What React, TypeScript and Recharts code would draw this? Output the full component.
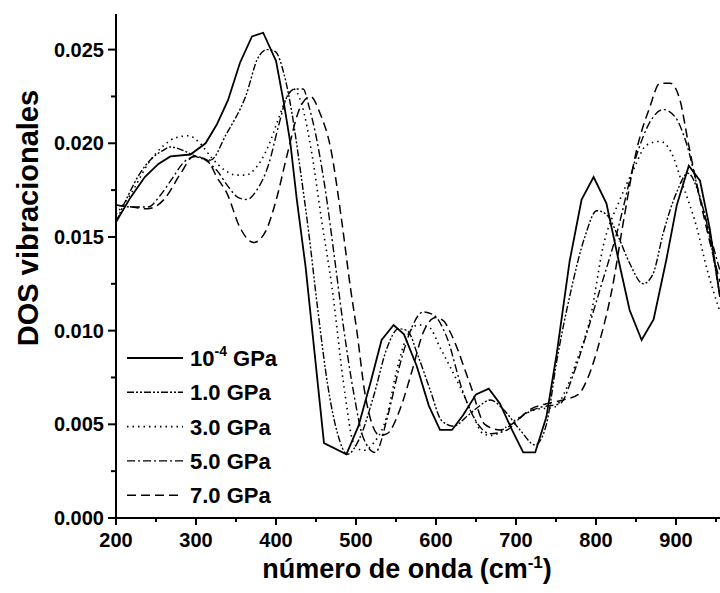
import React from 'react'
import { LineChart, Line, XAxis, YAxis, Legend } from 'recharts'

// DOS vibracionales vs número de onda, one array of [cm-1, DOS] per pressure
const gpa0001 = [
  [200, 0.0158], [218, 0.0171], [236, 0.0182], [253, 0.0189], [268, 0.0193], [293, 0.0194],
  [312, 0.02], [326, 0.021], [340, 0.0223], [355, 0.0243], [370, 0.0257], [384, 0.0259],
  [400, 0.0244], [410, 0.0221], [418, 0.02], [426, 0.017], [437, 0.0134], [460, 0.004],
  [488, 0.0034], [503, 0.0049], [518, 0.0072], [532, 0.0095], [547, 0.0103], [560, 0.0098],
  [576, 0.0081], [591, 0.006], [605, 0.0047], [620, 0.0047], [634, 0.0055], [650, 0.0066],
  [666, 0.0069], [680, 0.0061], [695, 0.0047], [709, 0.0035], [724, 0.0035], [738, 0.0054],
  [751, 0.0088], [767, 0.0137], [782, 0.017], [797, 0.0182], [813, 0.0168], [828, 0.0138],
  [842, 0.0111], [857, 0.0095], [872, 0.0106], [888, 0.0138], [901, 0.0167], [916, 0.0188],
  [930, 0.018], [942, 0.0155], [955, 0.0118],
]

const gpa1 = [
  [200, 0.0158], [215, 0.0172], [230, 0.0184], [245, 0.0192], [258, 0.0196], [268, 0.0198],
  [285, 0.0196], [300, 0.0193], [318, 0.0191], [338, 0.0205], [362, 0.0225], [378, 0.0246],
  [389, 0.025], [399, 0.0249], [410, 0.0237], [420, 0.0216], [430, 0.0187], [441, 0.0152],
  [452, 0.0112], [465, 0.007], [477, 0.0045], [489, 0.0034], [505, 0.0043], [522, 0.0065],
  [539, 0.0091], [553, 0.0101], [564, 0.01], [578, 0.0086], [593, 0.0068], [607, 0.0052],
  [622, 0.0049], [638, 0.0054], [652, 0.0059], [668, 0.0063], [684, 0.0058], [705, 0.0047],
  [724, 0.0039], [738, 0.005], [751, 0.0084], [768, 0.012], [786, 0.015], [801, 0.0164],
  [813, 0.0162], [828, 0.015], [842, 0.0136], [859, 0.0125], [871, 0.013], [884, 0.0152],
  [900, 0.0173], [915, 0.0184], [930, 0.0171], [942, 0.015], [955, 0.0118],
]

const gpa3 = [
  [200, 0.0162], [220, 0.0174], [240, 0.0189], [260, 0.0199], [275, 0.0203], [291, 0.0204],
  [305, 0.02], [320, 0.0192], [335, 0.0186], [350, 0.0183], [362, 0.0183], [375, 0.0187],
  [390, 0.0198], [403, 0.0213], [414, 0.0225], [422, 0.0229], [432, 0.0221], [445, 0.0194],
  [457, 0.0159], [470, 0.0123], [486, 0.0067], [497, 0.004], [509, 0.0036], [522, 0.004],
  [539, 0.0055], [551, 0.0079], [564, 0.0097], [578, 0.0103], [591, 0.0102], [605, 0.0091],
  [630, 0.007], [647, 0.0054], [659, 0.0045], [670, 0.0044], [689, 0.0049], [705, 0.0054],
  [726, 0.0058], [747, 0.0059], [764, 0.007], [776, 0.0084], [793, 0.0107], [809, 0.0145],
  [830, 0.017], [847, 0.0186], [863, 0.0199], [880, 0.0201], [893, 0.0196], [909, 0.0177],
  [926, 0.0155], [938, 0.0134], [955, 0.011],
]

const gpa5 = [
  [200, 0.0167], [220, 0.0166], [240, 0.0166], [255, 0.0172], [270, 0.0181], [285, 0.019],
  [300, 0.0193], [315, 0.019], [327, 0.0185], [340, 0.0177], [353, 0.0171], [364, 0.017],
  [376, 0.0175], [391, 0.0189], [403, 0.0209], [414, 0.0225], [424, 0.0229], [434, 0.0229],
  [441, 0.022], [449, 0.0206], [461, 0.0177], [474, 0.0136], [485, 0.01], [497, 0.0067],
  [509, 0.0043], [524, 0.0035], [540, 0.0055], [555, 0.0082], [570, 0.0102], [584, 0.011],
  [598, 0.0108], [613, 0.0097], [634, 0.0067], [651, 0.0051], [668, 0.0045], [689, 0.0047],
  [709, 0.0055], [730, 0.0059], [755, 0.0061], [772, 0.0077], [788, 0.0098], [805, 0.0122],
  [826, 0.0152], [851, 0.0194], [867, 0.0211], [884, 0.0218], [899, 0.0214], [913, 0.02],
  [930, 0.0171], [942, 0.0152], [955, 0.0132],
]

const gpa7 = [
  [200, 0.0167], [220, 0.0166], [239, 0.0165], [260, 0.017], [281, 0.0184], [297, 0.0193],
  [314, 0.0191], [326, 0.0182], [339, 0.0173], [355, 0.0155], [372, 0.0147], [387, 0.0153],
  [401, 0.0171], [414, 0.0194], [430, 0.0219], [443, 0.0225], [455, 0.0216], [468, 0.0198],
  [482, 0.0159], [493, 0.0123], [501, 0.01], [511, 0.0067], [521, 0.0049], [530, 0.0044],
  [539, 0.0045], [555, 0.0058], [569, 0.0077], [584, 0.0099], [600, 0.0107], [610, 0.0105],
  [618, 0.0099], [643, 0.0071], [661, 0.005], [680, 0.0047], [701, 0.0052], [718, 0.0058],
  [738, 0.0061], [759, 0.0063], [778, 0.0066], [790, 0.0075], [805, 0.0095], [820, 0.0122],
  [835, 0.016], [850, 0.0195], [867, 0.0219], [880, 0.0232], [893, 0.0232], [905, 0.0223],
  [915, 0.0201], [926, 0.0178], [938, 0.0155], [955, 0.0126],
]

const xTicks = [200, 250, 300, 350, 400, 450, 500, 550, 600, 650, 700, 750, 800, 850, 900, 950]
const yTicks = [0, 0.0025, 0.005, 0.0075, 0.01, 0.0125, 0.015, 0.0175, 0.02, 0.0225, 0.025]

const FONT = '"Liberation Sans", Arial, sans-serif'

const toRows = (pts: number[][]) => pts.map(([x, y]) => ({ x, y }))

const series = [
  { key: 'p0', label: '10', sup: '-4', rest: ' GPa', data: toRows(gpa0001), dash: undefined, width: 1.8, type: 'linear' },
  { key: 'p1', label: '1.0 GPa', data: toRows(gpa1), dash: '7 2 2 2 2 2', width: 1.4, type: 'monotone' },
  { key: 'p3', label: '3.0 GPa', data: toRows(gpa3), dash: '1.5 4', width: 1.6, type: 'monotone' },
  { key: 'p5', label: '5.0 GPa', data: toRows(gpa5), dash: '8 3 2 3', width: 1.4, type: 'monotone' },
  { key: 'p7', label: '7.0 GPa', data: toRows(gpa7), dash: '9 5', width: 1.5, type: 'monotone' },
]

function XTick({ x, y, payload }: any) {
  const major = payload.value % 100 === 0
  return (
    <g>
      <line x1={x} x2={x} y1={y} y2={y + (major ? 7 : 4)} stroke="#000" strokeWidth={2} />
      {major && (
        <text x={x} y={y + 29} textAnchor="middle" fontSize={20} fontWeight="bold" fontFamily={FONT} fill="#000">
          {payload.value}
        </text>
      )}
    </g>
  )
}

function YTick({ x, y, payload }: any) {
  const major = Math.round(payload.value * 10000) % 50 === 0
  return (
    <g>
      <line x1={x} x2={x - (major ? 8 : 5)} y1={y} y2={y} stroke="#000" strokeWidth={2} />
      {major && (
        <text x={x - 12} y={y + 7} textAnchor="end" fontSize={20} fontWeight="bold" fontFamily={FONT} fill="#000">
          {payload.value.toFixed(3)}
        </text>
      )}
    </g>
  )
}

function LegendBox() {
  return (
    <svg width={220} height={180}>
      {series.map((s, i) => {
        const cy = 18 + i * 34.3
        return (
          <g key={s.key}>
            <line x1={0} x2={56} y1={cy} y2={cy} stroke="#000" strokeWidth={s.width} strokeDasharray={s.dash} />
            <text x={63} y={cy + 8} fontSize={22} fontWeight="bold" fontFamily={FONT} fill="#000">
              {s.label}
              {s.sup && <tspan fontSize={14} dy={-10}>{s.sup}</tspan>}
              {s.rest && <tspan dy={10}>{s.rest}</tspan>}
            </text>
          </g>
        )
      })}
    </svg>
  )
}

export default function App() {
  return (
    <div style={{ position: 'absolute', left: 0, top: 0, width: 720, height: 593, background: '#fff', fontFamily: FONT }}>
      <LineChart width={720} height={593} margin={{ top: 14, right: 0, bottom: 0, left: 0 }}>
        <XAxis
          type="number"
          dataKey="x"
          domain={[200, 955]}
          ticks={xTicks}
          interval={0}
          allowDataOverflow
          height={75}
          tickSize={0}
          tickMargin={0}
          tick={<XTick />}
          axisLine={{ stroke: '#000', strokeWidth: 2 }}
          tickLine={false}
        />
        <YAxis
          type="number"
          domain={[0, 0.0269]}
          ticks={yTicks}
          interval={0}
          allowDataOverflow
          width={116}
          tickSize={0}
          tickMargin={0}
          tick={<YTick />}
          axisLine={{ stroke: '#000', strokeWidth: 2 }}
          tickLine={false}
        />
        <Legend
          layout="vertical"
          align="center"
          verticalAlign="middle"
          content={() => <LegendBox />}
          wrapperStyle={{ left: 127, top: 340, width: 220, height: 180 }}
        />
        {series.map((s) => (
          <Line
            key={s.key}
            data={s.data}
            dataKey="y"
            type={s.type as any}
            stroke="#000"
            strokeWidth={s.width}
            strokeDasharray={s.dash}
            dot={false}
            activeDot={false}
            isAnimationActive={false}
          />
        ))}
      </LineChart>
      <div
        style={{
          position: 'absolute', left: 28 - 200, top: 218 - 18, width: 400, lineHeight: '36px',
          textAlign: 'center', transform: 'rotate(-90deg)', fontSize: 29, fontWeight: 'bold', color: '#000',
        }}
      >
        DOS vibracionales
      </div>
      <div
        style={{
          position: 'absolute', left: 407 - 200, top: 569 - 18, width: 400, lineHeight: '36px',
          textAlign: 'center', fontSize: 27, fontWeight: 'bold', color: '#000',
        }}
      >
        número de onda (cm<sup style={{ fontSize: 17, lineHeight: 0, verticalAlign: 'super' }}>-1</sup>)
      </div>
    </div>
  )
}
